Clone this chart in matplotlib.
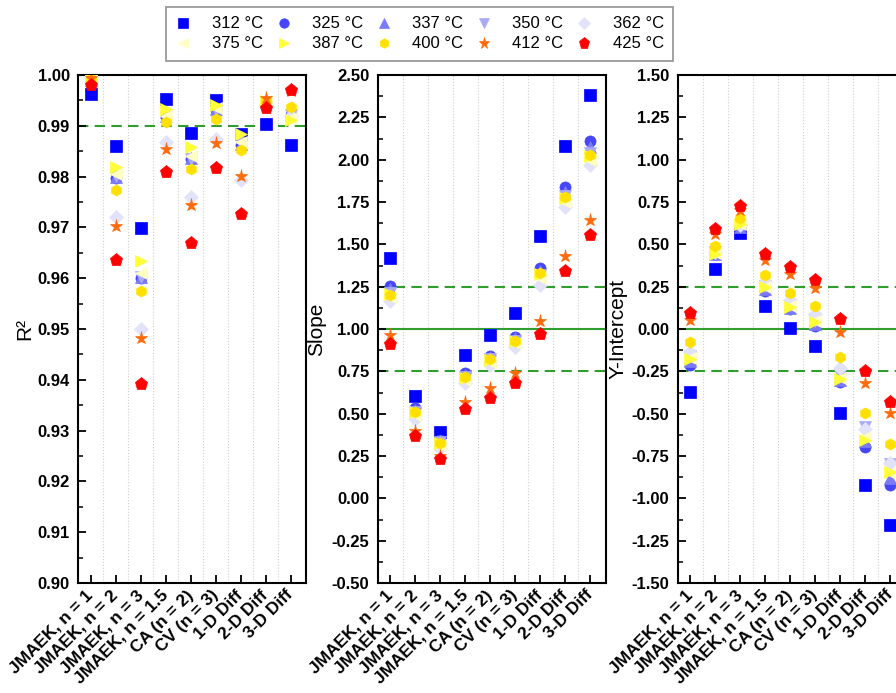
import matplotlib
matplotlib.use("Agg")
import matplotlib.pyplot as plt
import numpy as np

plt.rcParams['font.family'] = ['Liberation Sans', 'DejaVu Sans']

categories = ["JMAEK, n = 1", "JMAEK, n = 2", "JMAEK, n = 3", "JMAEK, n = 1.5",
              "CA (n = 2)", "CV (n = 3)", "1-D Diff", "2-D Diff", "3-D Diff"]
temperatures = ["312 °C", "325 °C", "337 °C", "350 °C", "362 °C",
                "375 °C", "387 °C", "400 °C", "412 °C", "425 °C"]
markers = ['s', 'o', '^', 'v', 'D', '<', '>', 'h', '*', 'p']
colors = ['#0000ff', '#4646f8', '#7b7bf8', '#aaaaf8', '#e2e2fa',
          '#ffffc4', '#ffff38', '#ffe000', '#ff6a0a', '#ff0000']

R2 = [
    [0.9962, 0.9861, 0.9699, 0.9953, 0.9886, 0.9951, 0.9884, 0.9904, 0.9863],
    [0.9990, 0.9797, 0.9600, 0.9917, 0.9834, 0.9931, 0.9863, 0.9945, 0.9922],
    [0.9991, 0.9799, 0.9602, 0.9919, 0.9836, 0.9933, 0.9865, 0.9946, 0.9923],
    [0.9990, 0.9801, 0.9603, 0.9918, 0.9835, 0.9932, 0.9866, 0.9946, 0.9921],
    [0.9989, 0.9720, 0.9500, 0.9869, 0.9759, 0.9874, 0.9794, 0.9940, 0.9920],
    [0.9992, 0.9805, 0.9610, 0.9920, 0.9840, 0.9935, 0.9868, 0.9947, 0.9915],
    [0.9993, 0.9819, 0.9633, 0.9933, 0.9858, 0.9941, 0.9884, 0.9948, 0.9911],
    [0.9993, 0.9774, 0.9574, 0.9907, 0.9815, 0.9913, 0.9853, 0.9948, 0.9937],
    [0.9995, 0.9703, 0.9482, 0.9855, 0.9744, 0.9866, 0.9802, 0.9954, 0.9968],
    [0.9980, 0.9636, 0.9391, 0.9809, 0.9669, 0.9816, 0.9727, 0.9936, 0.9970],
]
SLOPE = [
    [1.418, 0.604, 0.389, 0.844, 0.966, 1.093, 1.547, 2.082, 2.382],
    [1.253, 0.531, 0.343, 0.738, 0.842, 0.955, 1.361, 1.839, 2.109],
    [1.235, 0.522, 0.337, 0.728, 0.833, 0.945, 1.345, 1.812, 2.075],
    [1.215, 0.510, 0.330, 0.715, 0.822, 0.932, 1.320, 1.785, 2.040],
    [1.164, 0.470, 0.300, 0.682, 0.787, 0.895, 1.260, 1.720, 1.967],
    [1.190, 0.495, 0.315, 0.700, 0.805, 0.915, 1.300, 1.750, 2.000],
    [1.205, 0.510, 0.325, 0.712, 0.818, 0.928, 1.322, 1.775, 2.020],
    [1.201, 0.511, 0.327, 0.714, 0.822, 0.931, 1.330, 1.780, 2.030],
    [0.967, 0.398, 0.250, 0.566, 0.649, 0.742, 1.049, 1.432, 1.645],
    [0.911, 0.369, 0.231, 0.527, 0.594, 0.684, 0.970, 1.343, 1.553],
]
INTERCEPT = [
    [-0.371, 0.355, 0.566, 0.134, 0.006, -0.099, -0.495, -0.919, -1.160],
    [-0.213, 0.440, 0.600, 0.227, 0.118, 0.020, -0.312, -0.696, -0.919],
    [-0.190, 0.445, 0.605, 0.235, 0.125, 0.030, -0.300, -0.660, -0.880],
    [-0.160, 0.452, 0.612, 0.255, 0.140, 0.050, -0.270, -0.580, -0.800],
    [-0.134, 0.455, 0.615, 0.276, 0.172, 0.089, -0.233, -0.588, -0.789],
    [-0.170, 0.447, 0.618, 0.250, 0.135, 0.045, -0.290, -0.640, -0.850],
    [-0.180, 0.444, 0.622, 0.247, 0.128, 0.043, -0.298, -0.657, -0.844],
    [-0.075, 0.493, 0.657, 0.316, 0.213, 0.134, -0.164, -0.499, -0.680],
    [0.053, 0.562, 0.700, 0.405, 0.326, 0.241, -0.020, -0.321, -0.495],
    [0.093, 0.592, 0.726, 0.440, 0.369, 0.292, 0.059, -0.249, -0.434],
]

panels = [
    dict(data=R2, ylabel="R²", ylim=(0.90, 1.00), step=0.01,
         solid=[], dashed=[0.99], lx=-0.19),
    dict(data=SLOPE, ylabel="Slope", ylim=(-0.50, 2.50), step=0.25,
         solid=[1.0], dashed=[1.25, 0.75], lx=-0.228),
    dict(data=INTERCEPT, ylabel="Y-Intercept", ylim=(-1.50, 1.50), step=0.25,
         solid=[0.0], dashed=[0.25, -0.25], lx=-0.218),
]

W, H = 896, 693
fig = plt.figure(figsize=(W / 100, H / 100), dpi=100)
lefts = [78, 377.7, 677.7]
x = np.arange(1, len(categories) + 1)
green = '#2f9e2f'
handles = []
for k, p in enumerate(panels):
    ax = fig.add_axes([lefts[k] / W, (H - 583) / H, 228 / W, 508 / H])
    ax.set_xlim(0.49, 9.61)
    ax.set_ylim(*p['ylim'])
    for xv in np.arange(1.5, 9.0, 1.0):
        ax.axvline(xv, color='#d0d0d0', ls=':', lw=0.8, zorder=0)
    for yv in p['solid']:
        ax.axhline(yv, color=green, lw=1.5, zorder=1)
    for yv in p['dashed']:
        ax.axhline(yv, color=green, lw=1.5, ls=(0, (5, 3)), zorder=1)
    for i, t in enumerate(temperatures):
        ms = 9.5 if markers[i] in ('p', '*') else (7 if markers[i] == 'D' else 8)
        h, = ax.plot(x, p['data'][i], ls='none', marker=markers[i], ms=ms,
                     color=colors[i], mec=colors[i], mew=0.5, label=t, zorder=3 + i)
        if k == 0:
            handles.append(h)
    lo, hi = p['ylim']
    ticks = np.arange(lo, hi + p['step'] / 2, p['step'])
    ax.set_yticks(ticks)
    ax.set_yticks(np.arange(lo + p['step'] / 2, hi, p['step']), minor=True)
    ax.set_yticklabels([f"{v:.2f}" for v in ticks], fontweight='bold', fontsize=12)
    ax.set_xticks(x)
    ax.set_xticklabels(categories, rotation=45, ha='right', va='center',
                       rotation_mode='anchor', fontweight='bold', fontsize=12.5)
    ax.tick_params(axis='both', which='major', direction='in', length=6, width=1.3)
    ax.tick_params(axis='y', which='minor', direction='in', length=3.5, width=1.1)
    ax.tick_params(axis='x', which='major', pad=7)
    ax.tick_params(axis='y', which='major', pad=6)
    for s in ax.spines.values():
        s.set_linewidth(1.5)
    ax.set_ylabel(p['ylabel'], fontsize=15)
    ax.yaxis.set_label_coords(p['lx'], 0.5)

# legend filled row by row (matplotlib fills column-wise)
order = [0, 5, 1, 6, 2, 7, 3, 8, 4, 9]
leg = fig.legend(handles=[handles[j] for j in order],
                 labels=[temperatures[j] for j in order],
                 loc='center', bbox_to_anchor=(419.5 / W, 1 - 34 / H),
                 ncol=5, fontsize=12, frameon=True, fancybox=False,
                 edgecolor='#808080', handlelength=1.0, handletextpad=1.2,
                 columnspacing=0.75, borderpad=0.55, labelspacing=0.3,
                 markerscale=0.85)
leg.get_frame().set_linewidth(1.3)

fig.savefig('out.png', dpi=100)
